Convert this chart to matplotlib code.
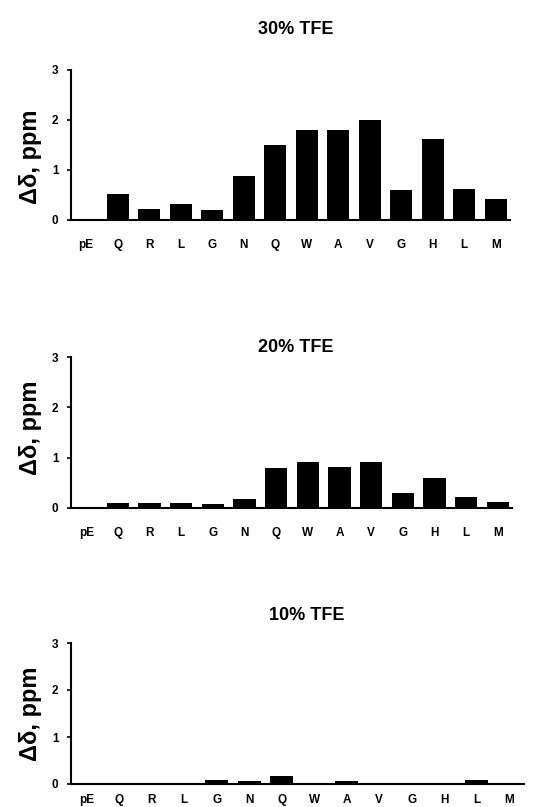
import matplotlib
matplotlib.use('Agg')
import matplotlib.pyplot as plt
import numpy as np

plt.rcParams['font.family'] = ['Liberation Sans', 'DejaVu Sans']
plt.rcParams['font.weight'] = 'bold'

residues = ['pE', 'Q', 'R', 'L', 'G', 'N', 'Q', 'W', 'A', 'V', 'G', 'H', 'L', 'M']
tfe30 = [0.0, 0.52, 0.22, 0.32, 0.20, 0.88, 1.50, 1.80, 1.80, 2.00, 0.60, 1.62, 0.62, 0.43]
tfe20 = [0.0, 0.10, 0.10, 0.10, 0.08, 0.18, 0.80, 0.92, 0.82, 0.92, 0.30, 0.60, 0.22, 0.12]
tfe10 = [0.0, 0.0, 0.0, 0.0, 0.08, 0.07, 0.17, 0.0, 0.07, 0.0, 0.0, 0.0, 0.08, 0.0]
titles = ['30% TFE', '20% TFE', '10% TFE']

W, H = 544, 807
fig = plt.figure(figsize=(W / 100, H / 100), dpi=100)

# panel boxes in pixels: (left, top, right, bottom), title y, title x, label pad, ylabel y (axes frac)
panels = [
    ((71, 70, 510, 220), 30, 296, 14, 0.42),
    ((71, 357, 512, 508), 347, 296, 14, 0.53),
    ((71, 643, 524, 784), 615, 307, 7, 0.5),
]

x = np.arange(len(residues))
for (box, ty, tx, xpad, ly), vals, title in zip(panels, [tfe30, tfe20, tfe10], titles):
    l, t, r, b = box
    ax = fig.add_axes([l / W, 1 - b / H, (r - l) / W, (b - t) / H])
    ax.bar(x, vals, width=0.7, color='black')
    ax.set_xlim(-0.48, len(residues) - 0.55)
    ax.set_ylim(0, 3)
    ax.set_yticks([0, 1, 2, 3])
    ax.set_xticks(x)
    ax.set_xticklabels(residues, fontsize=8.5, fontweight='bold')
    ax.tick_params(axis='x', length=0, pad=xpad)
    ax.tick_params(axis='y', length=3, width=1.2, direction='out', labelsize=8.5, pad=6)
    for s in ['top', 'right']:
        ax.spines[s].set_visible(False)
    for s in ['left', 'bottom']:
        ax.spines[s].set_linewidth(1.5)
    ax.set_ylabel('Δδ, ppm', fontsize=17, fontweight='bold')
    ax.yaxis.set_label_coords(-29 / (r - l), ly)
    fig.text(tx / W, 1 - ty / H, title, ha='center', va='center',
             fontsize=13, fontweight='bold')

fig.savefig('out.png', dpi=100)
